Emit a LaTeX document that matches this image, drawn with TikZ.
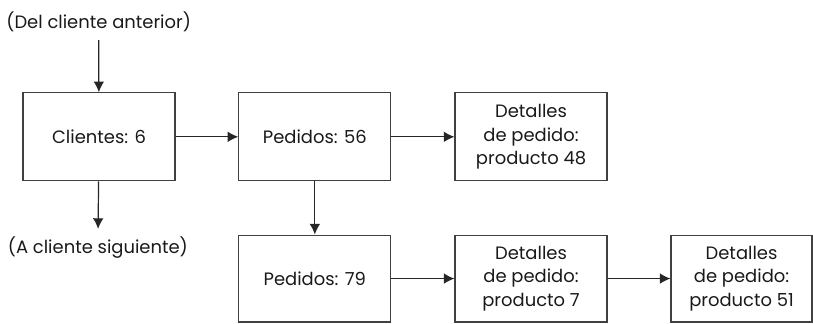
\documentclass[tikz,border=0pt]{standalone}
\usepackage{fontspec}
\setmainfont{Poppins}
\usetikzlibrary{positioning,arrows.meta}

\begin{document}
\begin{tikzpicture}[
	caja/.style={
		draw=black!75,
		line width=0.9pt,
		minimum width=4.02cm,
		minimum height=2.33cm,
		inner sep=2pt,
		align=center,
		text=black!90,
		font=\fontsize{13.5}{17.5}\selectfont
	},
	texto/.style={
		text=black!90,
		inner sep=6pt,
		font=\fontsize{13.5}{17.5}\selectfont
	},
	flecha/.style={
		draw=black!85,
		line width=0.9pt,
		-{Latex[length=8pt,width=8pt]}
	}
	]
	\useasboundingbox (0,0) rectangle (21.51,-8.57);

	\node[texto] at (2.61,-0.58) (anterior) {(Del cliente anterior)};
	\node[caja] at (2.62,-3.62) (clientes) {Clientes: 6};
	\node[texto] at (2.59,-6.56) (siguiente) {(A cliente siguiente)};

	\node[caja] at (8.33,-3.62) (pedidos1) {Pedidos: 56};
	\node[caja] at (14.05,-3.62) (detalles1) {Detalles\\de pedido:\\producto 48};

	\node[caja, minimum height=2.30cm] at (8.33,-7.37) (pedidos2) {Pedidos: 79};
	\node[caja, minimum height=2.30cm] at (14.05,-7.37) (detalles2) {Detalles\\de pedido:\\producto 7};
	\node[caja, minimum height=2.30cm, minimum width=3.73cm] at (19.62,-7.37) (detalles3) {Detalles\\de pedido:\\producto 51};

	\draw[flecha] (anterior) -- (clientes);
	\draw[flecha] (clientes) -- (siguiente);
	\draw[flecha] (clientes) -- (pedidos1);
	\draw[flecha] (pedidos1) -- (detalles1);
	\draw[flecha] (pedidos1) -- (pedidos2);
	\draw[flecha] (pedidos2) -- (detalles2);
	\draw[flecha] (detalles2) -- (detalles3);

\end{tikzpicture}
\end{document}
